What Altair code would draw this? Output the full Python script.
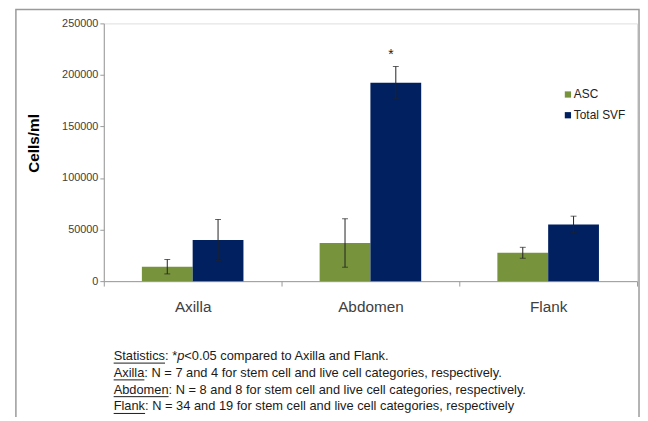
import altair as alt
import pandas as pd

categories = ["Axilla", "Abdomen", "Flank"]
series = ["ASC", "Total SVF"]
asc_values = [14000, 37000, 27500]
asc_errors = [7000, 23500, 5300]
svf_values = [40000, 192500, 55000]
svf_errors = [19800, 15700, 8000]
y_ticks = [0, 50000, 100000, 150000, 200000, 250000]
colors = ["#77933C", "#002060"]

rows = []
for i, c in enumerate(categories):
    rows.append({"cat": c, "series": "ASC", "value": asc_values[i],
                 "lo": asc_values[i] - asc_errors[i], "hi": asc_values[i] + asc_errors[i]})
    rows.append({"cat": c, "series": "Total SVF", "value": svf_values[i],
                 "lo": svf_values[i] - svf_errors[i], "hi": svf_values[i] + svf_errors[i]})
df = pd.DataFrame(rows)

star_df = pd.DataFrame({"cat": ["Abdomen"], "series": ["Total SVF"], "value": [220000], "label": ["*"]})

FONT = "Liberation Sans"

xenc = alt.X("cat:N", sort=categories,
             scale=alt.Scale(paddingInner=0, paddingOuter=0),
             axis=alt.Axis(title=None, labelAngle=0, labelFontSize=15.5, labelColor="#404040",
                           labelFont=FONT, labelPadding=14, tickBand="extent", tickSize=5,
                           tickColor="#999", domainColor="#999"))
xoff = alt.XOffset("series:N", sort=series,
                   scale=alt.Scale(paddingInner=0, paddingOuter=0.75))
yscale = alt.Scale(domain=[0, 250000])

base = alt.Chart(df).encode(x=xenc, xOffset=xoff)

bars = base.mark_bar().encode(
    y=alt.Y("value:Q", scale=yscale,
            axis=alt.Axis(title="Cells/ml", values=y_ticks, format="d", grid=False,
                          labelFontSize=11, labelColor="#404040", labelFont=FONT,
                          tickSize=4, tickColor="#999", domainColor="#999",
                          titleFontSize=15.5, titleFont=FONT, titleFontWeight="bold",
                          titleColor="#000", titlePadding=20, titleY=121)),
    color=alt.Color("series:N", sort=series,
                    scale=alt.Scale(domain=series, range=colors),
                    legend=alt.Legend(title=None, orient="none", legendX=464, legendY=66,
                                      symbolType="square", symbolSize=40, symbolStrokeWidth=0,
                                      labelFontSize=12, labelFont=FONT, labelColor="#222",
                                      labelOffset=0, rowPadding=9, padding=0)),
)

err = base.mark_rule(color="#222", strokeWidth=1).encode(y=alt.Y("lo:Q", scale=yscale), y2="hi:Q")
cap_hi = base.mark_tick(color="#222", size=6, thickness=1).encode(y=alt.Y("hi:Q", scale=yscale))
cap_lo = base.mark_tick(color="#222", size=6, thickness=1).encode(y=alt.Y("lo:Q", scale=yscale))

star = alt.Chart(star_df).mark_text(fontSize=14, color="#222", font=FONT, dx=-5, dy=1).encode(
    x=alt.X("cat:N", sort=categories), xOffset=alt.XOffset("series:N", sort=series),
    y=alt.Y("value:Q", scale=yscale), text="label:N")

one = pd.DataFrame({"a": [0]})
frame = alt.Chart(one).mark_rect(fillOpacity=0, stroke="#9a9a9a", strokeWidth=1.5).encode(
    x=alt.value(-89), x2=alt.value(542), y=alt.value(-14), y2=alt.value(600))

# footnote pieces (x offsets follow the rendered width of each preceding piece)
fn_size = 13
notes = [
    # (text, dx, line, italic, underline)
    ("Statistics", 10, 0, False, True),
    (": *", 62, 0, False, False),
    ("p", 74.3, 0, True, False),
    ("<0.05 compared to Axilla and Flank.", 81.5, 0, False, False),
    ("Axilla", 10, 1, False, True),
    (": N = 7 and 4 for stem cell and live cell categories, respectively.", 41.1, 1, False, False),
    ("Abdomen", 10, 2, False, True),
    (": N = 8 and 8 for stem cell and live cell categories, respectively.", 65.6, 2, False, False),
    ("Flank", 10, 3, False, True),
    (": N = 34 and 19 for stem cell and live cell categories, respectively", 41.8, 3, False, False),
]
widths = {"Statistics": 52.0, "Axilla": 31.1, "Abdomen": 55.6, "Flank": 31.8}
line_y = [337, 354, 371, 388]

layers = [frame, bars, err, cap_hi, cap_lo, star]
for text, dx, line, italic, underline in notes:
    t = alt.Chart(one).mark_text(
        text=text, align="left", baseline="middle", fontSize=fn_size, font=FONT,
        fontStyle="italic" if italic else "normal", color="#1a1a1a"
    ).encode(x=alt.value(dx), y=alt.value(line_y[line]))
    layers.append(t)
    if underline:
        u = alt.Chart(one).mark_rule(color="#1a1a1a", strokeWidth=1).encode(
            x=alt.value(dx), x2=alt.value(dx + widths[text]),
            y=alt.value(line_y[line] + 7))
        layers.append(u)

chart = alt.layer(*layers).properties(
    width=540, height=261,
    autosize=alt.AutoSizeParams(type="none"),
    padding={"left": 97, "top": 13, "right": 3, "bottom": 135},
).configure_view(stroke=None).configure(background="white")

chart.save("out.html", embed_options={"renderer": "svg", "actions": False})
